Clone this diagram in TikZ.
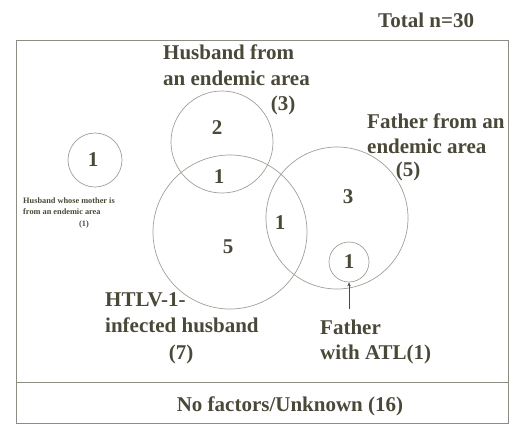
\documentclass[tikz,border=0pt]{standalone}
\usepackage{fontspec}
\setmainfont{Liberation Serif}
\usetikzlibrary{arrows.meta}
\definecolor{txt}{HTML}{4A4838}
\definecolor{ringc}{HTML}{A09F96}
\definecolor{framec}{HTML}{8E8D84}
\begin{document}
\begin{tikzpicture}[x=1pt,y=-1pt,
  lbl/.style={font=\fontsize{21}{26}\selectfont\bfseries, text=txt, inner sep=0pt, anchor=base west, align=left},
  num/.style={font=\fontsize{21}{26}\selectfont\bfseries, text=txt, inner sep=0pt},
  small/.style={font=\fontsize{8.3}{11.5}\selectfont\bfseries, text=txt, inner sep=0pt, anchor=base west, align=left},
  ring/.style={draw=ringc, line width=0.7pt, circle, inner sep=0pt, minimum size=#1},
  frame/.style={draw=framec, line width=0.7pt}]
\useasboundingbox (0,0) rectangle (511,424);
% frame
\draw[frame] (16,40) rectangle (508,423);
\draw[frame] (16,382) -- (508,382);
% circles
\node[ring=54pt]  (lc)   at (95,160) {};
\node[ring=102pt] (hc)   at (222,142) {};
\node[ring=154pt] (htlv) at (230,232) {};
\node[ring=142pt] (fc)   at (337,218) {};
\node[ring=40pt]  (atl)  at (349,262) {};
% numbers
\node[num] (n1) at (93,160) {1};
\node[num] (n2) at (217,128) {2};
\node[num] (n3) at (219,177) {1};
\node[num] (n4) at (348,197) {3};
\node[num] (n5) at (280,223) {1};
\node[num] (n6) at (228,247) {5};
\node[num] (n7) at (349,262) {1};
% labels (base anchor = baseline of last line)
\node[lbl] (total) at (378,27) {Total n=30};
\node[lbl] (hlab) at (163,85) {Husband from\\an endemic area};
\node[lbl,anchor=base] (hn) at (283,110) {(3)};
\node[lbl,font=\fontsize{21}{25}\selectfont\bfseries] (flab) at (367,153) {Father from an\\endemic area};
\node[lbl,anchor=base] (fn) at (408,176) {(5)};
\node[small] (mlab) at (23,214.5) {Husband whose mother is\\from an endemic area};
\node[small,anchor=base] (mn) at (84,226) {(1)};
\node[lbl] (tlab) at (105,332) {HTLV-1-\\infected husband};
\node[lbl,anchor=base] (tn) at (181,359) {(7)};
\node[lbl,font=\fontsize{21}{25}\selectfont\bfseries] (alab) at (320,359) {Father\\with ATL(1)};
\node[lbl,anchor=base] (none) at (290,411) {No factors/Unknown (16)};
% arrow
\coordinate (astart) at (349,309);
\draw[draw=txt, line width=0.9pt, -{Stealth[length=4pt,width=3.5pt]}] (astart) -- (atl.south);
\end{tikzpicture}
\end{document}
